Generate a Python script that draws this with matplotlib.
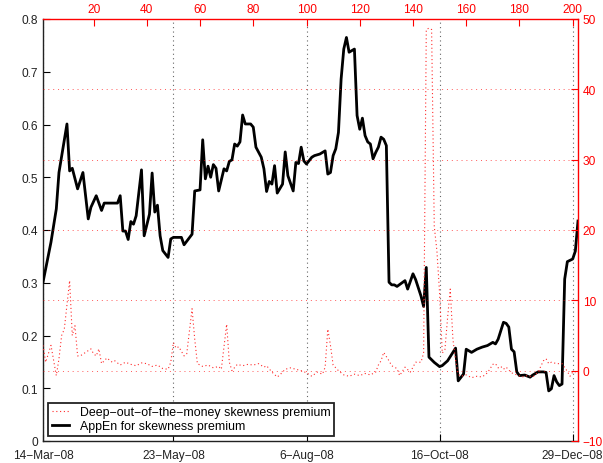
import numpy as np
import matplotlib
matplotlib.use('Agg')
import matplotlib.pyplot as plt

# observation index -> AppEn for skewness premium (left axis)
appen_idx = [1, 4, 6, 7, 10, 11, 12, 14, 16, 18, 19, 21, 23, 24, 29, 30, 31, 32, 33, 34,
             35, 36, 38, 39, 41, 42, 43, 44, 45, 46, 48, 49, 50, 53, 54, 57, 58, 60, 61, 62,
             63, 64, 65, 66, 67, 69, 70, 71, 72, 73, 74, 75, 76, 77, 79, 80, 81, 83, 84, 85,
             86, 87, 88, 89, 91, 92, 93, 95, 96, 97, 98, 99, 100, 102, 103, 105, 107, 108, 109, 110,
             111, 112, 113, 114, 115, 116, 118, 119, 120, 121, 122, 123, 124, 125, 126, 127, 128, 129, 130, 131,
             132, 133, 134, 137, 138, 140, 141, 143, 144, 145, 146, 148, 150, 151, 153, 156, 157, 159, 160, 162,
             164, 166, 168, 170, 171, 172, 174, 175, 176, 177, 178, 179, 180, 182, 183, 184, 185, 187, 189, 190,
             191, 192, 193, 194, 195, 196, 197, 198, 200, 201, 202]
appen_val = [0.301, 0.377, 0.440, 0.509, 0.601, 0.512, 0.517, 0.478, 0.509, 0.421, 0.443, 0.465, 0.437, 0.451, 0.451, 0.465, 0.398, 0.398, 0.382, 0.416,
             0.411, 0.427, 0.514, 0.389, 0.430, 0.508, 0.434, 0.447, 0.389, 0.361, 0.348, 0.383, 0.386, 0.386, 0.372, 0.392, 0.474, 0.476, 0.571, 0.497,
             0.521, 0.500, 0.524, 0.517, 0.474, 0.516, 0.512, 0.530, 0.533, 0.563, 0.559, 0.567, 0.618, 0.601, 0.601, 0.595, 0.557, 0.538, 0.516, 0.473,
             0.492, 0.487, 0.522, 0.470, 0.487, 0.548, 0.503, 0.474, 0.528, 0.526, 0.557, 0.531, 0.525, 0.538, 0.541, 0.544, 0.550, 0.506, 0.509, 0.541,
             0.554, 0.585, 0.686, 0.743, 0.765, 0.737, 0.743, 0.617, 0.591, 0.612, 0.579, 0.567, 0.563, 0.535, 0.547, 0.557, 0.576, 0.572, 0.560, 0.301,
             0.296, 0.296, 0.293, 0.304, 0.288, 0.317, 0.306, 0.275, 0.255, 0.329, 0.159, 0.149, 0.141, 0.143, 0.152, 0.176, 0.114, 0.127, 0.174, 0.168,
             0.174, 0.178, 0.181, 0.187, 0.184, 0.193, 0.225, 0.223, 0.216, 0.174, 0.169, 0.131, 0.124, 0.125, 0.123, 0.121, 0.125, 0.131, 0.131, 0.130,
             0.095, 0.099, 0.124, 0.112, 0.105, 0.108, 0.307, 0.340, 0.345, 0.360, 0.417]

# observation index -> deep-out-of-the-money skewness premium (right axis)
skew_idx = [1, 2, 4, 6, 7, 8, 9, 11, 12, 13, 14, 15, 17, 19, 20, 21, 22, 23, 25, 27,
            28, 30, 32, 34, 36, 38, 40, 42, 44, 46, 48, 49, 50, 51, 52, 54, 55, 57, 58, 59,
            61, 63, 65, 67, 68, 70, 71, 72, 74, 76, 78, 80, 82, 84, 85, 87, 89, 90, 92, 94,
            96, 98, 100, 102, 104, 106, 107, 108, 109, 110, 112, 114, 116, 118, 120, 122, 124, 126, 127, 128,
            129, 130, 131, 132, 134, 135, 137, 139, 141, 143, 144, 145, 146, 147, 148, 149, 150, 151, 152, 153,
            154, 155, 156, 157, 158, 160, 162, 164, 166, 168, 170, 171, 172, 173, 174, 175, 177, 179, 181, 183,
            185, 187, 189, 190, 191, 192, 194, 196, 198, 199, 200, 201]
skew_val = [3.6, 1.2, 3.6, -0.7, 1.7, 5.0, 5.9, 12.8, 5.0, 6.4, 2.1, 2.1, 2.6, 3.1, 2.4, 2.1, 3.1, 1.0, 1.8, 1.2,
            1.4, 0.8, 1.2, 0.9, 0.7, 1.1, 1.0, 0.6, 0.8, 0.3, 0.2, 1.2, 4.0, 3.2, 3.4, 2.1, 2.4, 8.8, 4.5, 1.0,
            0.6, 0.8, 0.4, 0.6, 0.2, 6.6, 1.2, 0.0, 0.9, 0.7, 0.9, 0.8, 1.0, 0.5, 0.7, -0.2, -0.9, -0.6, 0.2, 0.4,
            0.2, 0.0, -0.3, -0.8, -0.2, -0.5, 0.5, 5.9, 3.6, 0.8, 0.0, -0.6, -0.8, -0.5, -0.7, -0.4, -0.6, -0.2, 0.8, 1.4,
            2.6, 2.0, 1.4, 0.7, 0.3, -0.7, 0.5, -0.2, 1.2, 1.2, 2.5, 48.5, 48.7, 48.5, 20.5, 17.0, 11.0, 2.5, 3.0, 7.5,
            11.6, 4.5, 1.5, -0.5, -0.8, -0.6, -1.0, -0.8, -0.9, -0.3, 0.9, 1.0, 0.4, 0.6, 0.2, 0.5, -0.3, -0.6, -0.9, -0.7,
            -0.9, -0.2, 1.4, 1.7, 1.0, 1.2, 1.0, 1.0, -0.1, -0.8, -0.2, -0.3]

date_idx = [1, 50, 100, 150, 200]
date_labels = ['14\u2212Mar\u221208', '23\u2212May\u221208', '6\u2212Aug\u221208',
               '16\u2212Oct\u221208', '29\u2212Dec\u221208']
top_ticks = list(range(20, 201, 20))
left_ticks = [0, 0.1, 0.2, 0.3, 0.4, 0.5, 0.6, 0.7, 0.8]
right_ticks = list(range(-10, 51, 10))

plt.rcParams['font.family'] = ['Liberation Sans', 'DejaVu Sans']
plt.rcParams['font.size'] = 8.6
plt.rcParams['axes.unicode_minus'] = True

RED = '#ff0000'


def main():
    fig = plt.figure(figsize=(6.03, 4.64), dpi=100)
    ax = fig.add_axes([43 / 603, 1 - 442 / 464, 535 / 603, 422 / 464])
    xlim = (1, 202)

    # left axis: AppEn, dates along the bottom
    l_app, = ax.plot(appen_idx, appen_val, color='k', lw=2.0, zorder=3)
    ax.set_xlim(*xlim)
    ax.set_ylim(0, 0.8)
    ax.set_yticks(left_ticks)
    ax.set_yticklabels(['0'] + ['%.1f' % v for v in left_ticks[1:]])
    ax.set_xticks(date_idx)
    ax.set_xticklabels(date_labels)
    ax.tick_params(direction='in', length=5, width=0.8, colors='k', labelcolor='#222222')
    ax.tick_params(axis='x', pad=6)
    ax.grid(axis='x', linestyle=(0, (1, 3)), color='0.4', lw=0.8)
    for s in ['top', 'right']:
        ax.spines[s].set_visible(False)
    for s in ['left', 'bottom']:
        ax.spines[s].set_linewidth(1.0)
        ax.spines[s].set_color('#222222')

    # right axis: skewness premium
    ax2 = ax.twinx()
    l_sk, = ax2.plot(skew_idx, skew_val, color='#ff2a2a', lw=0.8, linestyle=(0, (1, 2.4)), zorder=2)
    ax2.set_ylim(-10, 50)
    ax2.set_yticks(right_ticks)
    ax2.tick_params(direction='in', length=5, width=0.8, colors=RED)
    ax2.grid(axis='y', linestyle=(0, (1, 4)), color=RED, lw=0.7, alpha=0.65)
    ax2.spines['right'].set_color(RED)
    ax2.spines['right'].set_linewidth(1.0)
    ax2.spines['top'].set_visible(False)
    ax2.spines['left'].set_visible(False)
    ax2.spines['bottom'].set_visible(False)
    ax2.set_xlim(*xlim)

    # top axis: observation number
    ax3 = ax.twiny()
    ax3.set_xlim(*xlim)
    ax3.set_xticks(top_ticks)
    ax3.tick_params(axis='x', direction='in', length=5, width=0.8, colors=RED, pad=3)
    ax3.spines['top'].set_color(RED)
    ax3.spines['top'].set_linewidth(1.0)
    for s in ['left', 'right', 'bottom']:
        ax3.spines[s].set_visible(False)

    leg = ax3.legend([l_sk, l_app],
                     ['Deep\u2212out\u2212of\u2212the\u2212money skewness premium',
                      'AppEn for skewness premium'],
                     loc='lower left', bbox_to_anchor=(0.009, 0.012), borderaxespad=0,
                     fancybox=False, framealpha=1, edgecolor='#222222',
                     handlelength=1.4, handletextpad=0.9, borderpad=0.3,
                     labelspacing=0.15, fontsize=8.9)
    leg.get_frame().set_linewidth(1.3)

    fig.savefig('out.png', dpi=100)


if __name__ == '__main__':
    main()
